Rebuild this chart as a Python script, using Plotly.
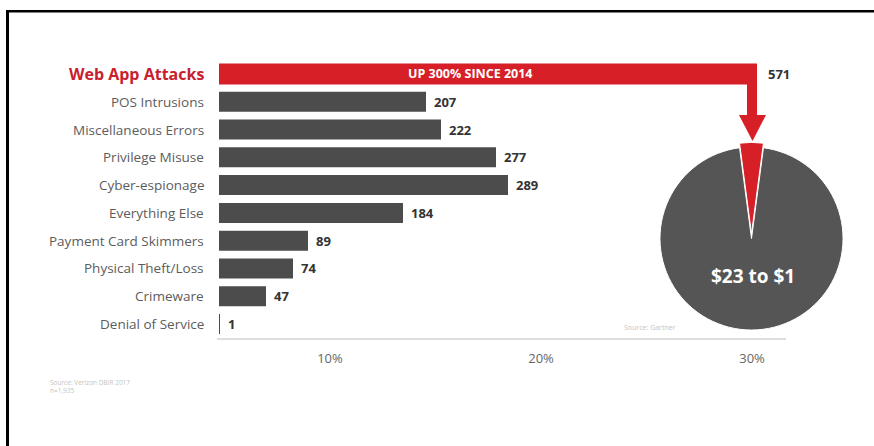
import plotly.graph_objects as go

# ---------------- data ----------------
categories = ["Web App Attacks", "POS Intrusions", "Miscellaneous Errors", "Privilege Misuse",
              "Cyber-espionage", "Everything Else", "Payment Card Skimmers",
              "Physical Theft/Loss", "Crimeware", "Denial of Service"]
incidents = [571, 207, 222, 277, 289, 184, 89, 74, 47, 1]
pct_ticks = [10, 20, 30]
pct_tick_labels = ["10%", "20%", "30%"]
pie_labels = ["$1", "$23"]
pie_values = [1, 23]
highlight_text = "UP 300% SINCE 2014"
pie_text = "$23 to $1"
source_left = "Source: Verizon DBIR 2017<br>n=1,935"
source_pie = "Source: Gartner"

# ---------------- style / layout constants ----------------
W, H = 874, 446
RED = "#d71f28"
GRAY_BAR = "#4c4c4c"
FONT = "Open Sans"
ARROW_BEND = 538  # x position (axis units) where the highlight bar turns down into the pie


def px(x):
    return x / W


def py(y):
    return 1 - y / H


fig = go.Figure()

# gray bars
fig.add_trace(go.Bar(
    x=incidents[1:], y=categories[1:], orientation="h",
    marker=dict(color=GRAY_BAR, line=dict(width=0)), width=0.72,
    hoverinfo="skip", showlegend=False))

# red highlight bar (runs up to the arrow bend)
fig.add_trace(go.Bar(
    x=[min(incidents[0], ARROW_BEND)], y=categories[:1], orientation="h",
    marker=dict(color=RED, line=dict(width=0)), width=0.76,
    hoverinfo="skip", showlegend=False))

# pie
fig.add_trace(go.Pie(
    values=pie_values, labels=pie_labels, sort=False, direction="clockwise",
    rotation=-7.5, textinfo="none", hoverinfo="skip", showlegend=False,
    pull=[0.05, 0],
    marker=dict(colors=[RED, "#555555"], line=dict(color="white", width=1)),
    domain=dict(x=[px(655.4), px(847.6)], y=[py(334.6), py(142.4)])))

annotations = []
# category labels
for i, c in enumerate(categories):
    if i == 0:
        font = dict(family=FONT, size=16, color="#c8202e", weight="bold")
    else:
        font = dict(family=FONT, size=13.5, color="#5c5c5c")
    annotations.append(dict(x=px(206), xref="paper", y=c, yref="y", text=c, showarrow=False,
                            xanchor="right", yanchor="middle", font=font))
# value labels
for i, (c, v) in enumerate(zip(categories, incidents)):
    if i == 0:
        annotations.append(dict(x=px(766), xref="paper", y=c, yref="y", text=f"<b>{v}</b>",
                                showarrow=False, xanchor="left", yanchor="middle",
                                font=dict(family=FONT, size=13, color="#333333")))
    else:
        annotations.append(dict(x=v, xref="x", y=c, yref="y", text=f"<b>{v}</b>",
                                showarrow=False, xanchor="left", yanchor="middle", xshift=6,
                                font=dict(family=FONT, size=13, color="#333333")))

annotations.append(dict(x=px(470), xref="paper", y=categories[0], yref="y", text=f"<b>{highlight_text}</b>",
                        showarrow=False, xanchor="center", yanchor="middle",
                        font=dict(family=FONT, size=12.5, color="white")))
annotations.append(dict(x=px(753), xref="paper", y=py(276), yref="paper", text=f"<b>{pie_text}</b>",
                        showarrow=False, xanchor="center", yanchor="middle",
                        font=dict(family=FONT, size=19, color="white")))
annotations.append(dict(x=px(622), xref="paper", y=py(327), yref="paper", text=source_pie,
                        showarrow=False, xanchor="left", yanchor="middle",
                        font=dict(family=FONT, size=7, color="#c4c4c4")))
annotations.append(dict(x=px(48), xref="paper", y=py(386), yref="paper", text=source_left,
                        showarrow=False, xanchor="left", yanchor="middle", align="left",
                        font=dict(family=FONT, size=6.5, color="#c4c4c4")))

shapes = [
    # frame (filled strips)
    dict(type="rect", xref="paper", yref="paper", x0=px(6), x1=1, y0=py(12.5), y1=py(10),
         line=dict(width=0), fillcolor="black"),
    dict(type="rect", xref="paper", yref="paper", x0=px(6), x1=px(9), y0=0, y1=py(10),
         line=dict(width=0), fillcolor="black"),
    # arrow shaft
    dict(type="rect", xref="x", yref="paper", x0=ARROW_BEND - 10, x1=ARROW_BEND,
         y0=py(116), y1=py(80), line=dict(width=0), fillcolor=RED),
    # arrow head
    dict(type="path", xref="paper", yref="paper",
         path=f"M {px(739)} {py(115)} L {px(766)} {py(115)} L {px(752.5)} {py(141)} Z",
         line=dict(width=0), fillcolor=RED),
]

fig.update_layout(
    width=W, height=H, autosize=False,
    margin=dict(l=0, r=0, t=0, b=0),
    paper_bgcolor="white", plot_bgcolor="white",
    showlegend=False,
    bargap=0.28,
    xaxis=dict(domain=[px(217), px(786)], range=[-2, 567], showgrid=False, zeroline=False,
               showticklabels=False, showline=True, linecolor="#dedede", linewidth=2,
               fixedrange=True),
    xaxis2=dict(overlaying="x", anchor="y", side="bottom", range=[4.645, 31.61],
                tickmode="array", tickvals=pct_ticks, ticktext=pct_tick_labels,
                showgrid=False, zeroline=False, showline=False,
                ticks="outside", ticklen=8, tickcolor="rgba(0,0,0,0)",
                tickfont=dict(family=FONT, size=13, color="#666666")),
    yaxis=dict(domain=[py(337.9), py(60.1)], type="category", categoryarray=categories,
               range=[len(categories) - 0.5, -0.5], showticklabels=False, showgrid=False,
               zeroline=False, showline=False),
    annotations=annotations,
    shapes=shapes,
)

# an (empty-of-marks) trace on the percent axis so that plotly draws it
fig.add_trace(go.Scatter(x=[pct_ticks[0], pct_ticks[-1]], y=[categories[-1], categories[-1]],
                         xaxis="x2", yaxis="y", mode="none", hoverinfo="skip", showlegend=False))

fig.write_html("out.html", config={"displayModeBar": False})
